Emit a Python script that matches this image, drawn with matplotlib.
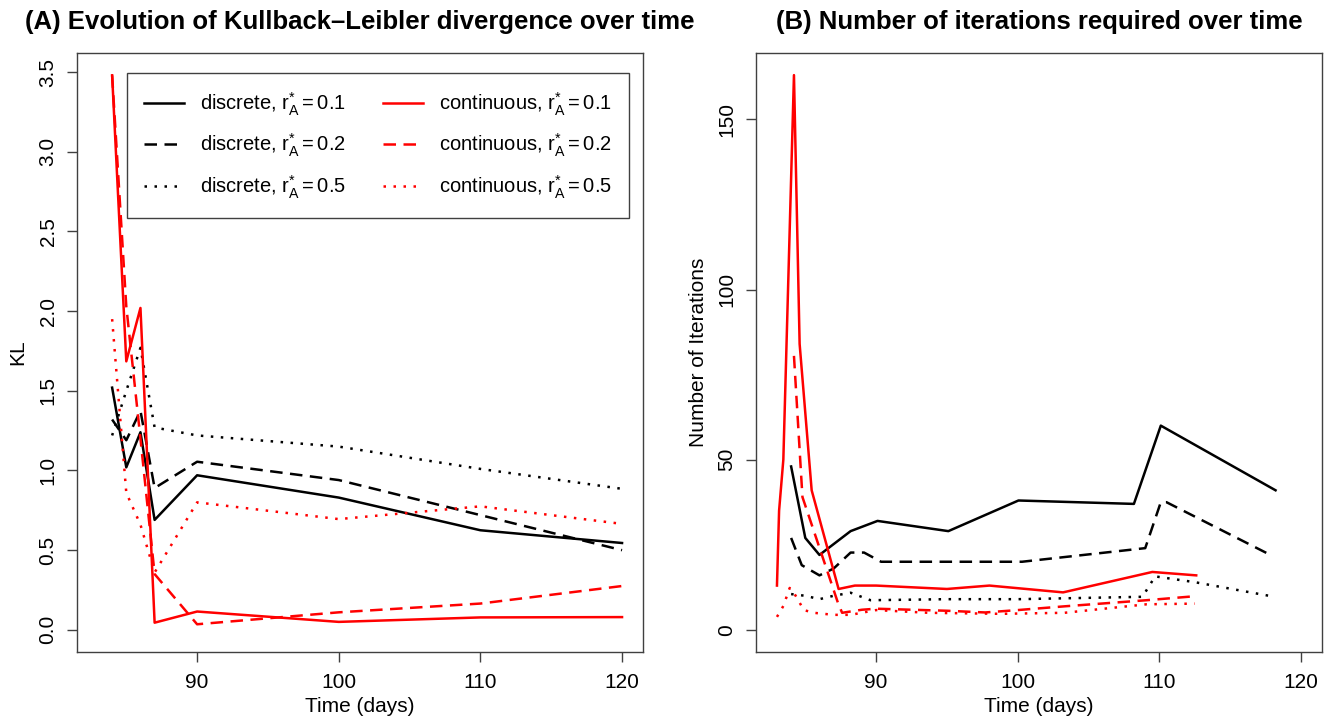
import matplotlib
matplotlib.use("Agg")
import matplotlib.pyplot as plt
from matplotlib.lines import Line2D

plt.rcParams['font.family'] = ['Liberation Sans', 'DejaVu Sans']
plt.rcParams['mathtext.fontset'] = 'custom'
plt.rcParams['mathtext.rm'] = 'Liberation Sans'
plt.rcParams['mathtext.it'] = 'Liberation Sans:italic'
plt.rcParams['mathtext.bf'] = 'Liberation Sans:bold'

# --- Panel A : KL divergence ---
kl_days = [84, 85, 86, 87, 90, 100, 110, 120]
kl_disc_01 = [1.52, 1.02, 1.24, 0.69, 0.97, 0.83, 0.625, 0.545]
kl_disc_02 = [1.32, 1.19, 1.375, 0.89, 1.055, 0.94, 0.72, 0.50]
kl_disc_05 = [1.22, 1.50, 1.77, 1.27, 1.22, 1.15, 1.01, 0.885]
kl_cont_01 = [3.48, 1.685, 2.02, 0.045, 0.115, 0.05, 0.078, 0.08]
kl_cont_02 = [3.48, 2.03, 1.20, 0.35, 0.035, 0.11, 0.165, 0.275]
kl_cont_05 = [1.95, 0.86, 0.66, 0.36, 0.80, 0.695, 0.775, 0.665]

# --- Panel B : number of iterations (irregular time points) ---
it_disc_01_t = [84, 85, 86, 88.2, 90.1, 95.1, 100.05, 108.2, 110.1, 118.2]
it_disc_01 = [48, 27, 22, 29, 32, 29, 38, 37, 60, 41]
it_disc_02_t = [84, 84.75, 86, 87, 88.2, 89.15, 90.35, 100.3, 109, 110.1, 110.5, 117.6]
it_disc_02 = [27, 19, 16, 18, 22.7, 22.7, 20, 20, 24, 37.5, 37.5, 22.5]
it_disc_05_t = [84, 85, 86, 87, 88.2, 89.6, 95, 100, 108.8, 109.7, 112.5, 118]
it_disc_05 = [10.5, 10, 9, 10, 10.9, 8.7, 9, 9, 9.7, 15.7, 14, 9.8]
it_cont_01_t = [83.0, 83.15, 83.45, 84.2, 84.6, 85.45, 87.35, 88.5, 90, 95, 98, 103.2, 109.5, 112.6]
it_cont_01 = [13, 35, 50, 163, 84, 41, 12, 13, 13, 12, 13, 11, 17, 16]
it_cont_02_t = [84.2, 84.8, 87.3, 87.6, 89, 90, 95, 97.7, 100, 103.3, 109.1, 112.3]
it_cont_02 = [80.5, 39, 8, 5, 5.9, 6.2, 5.6, 5.1, 5.8, 6.9, 8.7, 9.8]
it_cont_05_t = [83.0, 83.45, 83.9, 84.25, 84.9, 85.6, 87, 88.2, 90, 93.7, 98.8, 103.3, 109.1, 112.5]
it_cont_05 = [3.8, 7, 12.3, 10.5, 5.8, 5, 4.4, 4.4, 5.8, 5, 4.7, 5, 7.5, 7.7]

x_ticks = [90, 100, 110, 120]
kl_ticks = [0.0, 0.5, 1.0, 1.5, 2.0, 2.5, 3.0, 3.5]
it_ticks = [0, 50, 100, 150]

legend_labels = [r'discrete, $\mathrm{r}_{\mathrm{A}}^{*}=0.1$',
                 r'discrete, $\mathrm{r}_{\mathrm{A}}^{*}=0.2$',
                 r'discrete, $\mathrm{r}_{\mathrm{A}}^{*}=0.5$',
                 r'continuous, $\mathrm{r}_{\mathrm{A}}^{*}=0.1$',
                 r'continuous, $\mathrm{r}_{\mathrm{A}}^{*}=0.2$',
                 r'continuous, $\mathrm{r}_{\mathrm{A}}^{*}=0.5$']

LW = 1.8
DASH = (0, (5, 3))
DOT = (0, (1, 3))
RED = '#ff0000'
FRAME = '#404040'

W, H = 1338, 726
fig = plt.figure(figsize=(W / 100, H / 100), dpi=100)
axA = fig.add_axes([77 / W, (H - 652) / H, 566 / W, 599 / H])
axB = fig.add_axes([756 / W, (H - 652) / H, 566 / W, 599 / H])


def style_axes(ax, yticks, fmt):
    for s in ax.spines.values():
        s.set_color(FRAME)
        s.set_linewidth(1.0)
    ax.set_xticks(x_ticks)
    ax.set_yticks(yticks)
    ax.set_yticklabels([fmt.format(v) for v in yticks])
    ax.tick_params(axis='both', direction='out', length=7, width=1,
                   color=FRAME, labelsize=15)
    ax.tick_params(axis='x', pad=8)
    ax.tick_params(axis='y', pad=7)
    for lab in ax.get_yticklabels():
        lab.set_rotation(90)
        lab.set_va('center')
    ax.set_xlim(81.52, 121.48)
    ax.set_xlabel('Time (days)', fontsize=15)
    ax.xaxis.set_label_coords(0.5, -0.075)


# panel A
axA.plot(kl_days, kl_disc_01, color='black', lw=LW)
axA.plot(kl_days, kl_disc_02, color='black', lw=LW, linestyle=DASH)
axA.plot(kl_days, kl_disc_05, color='black', lw=LW, linestyle=DOT)
axA.plot(kl_days, kl_cont_01, color=RED, lw=LW)
axA.plot(kl_days, kl_cont_02, color=RED, lw=LW, linestyle=DASH)
axA.plot(kl_days, kl_cont_05, color=RED, lw=LW, linestyle=DOT)
style_axes(axA, kl_ticks, '{:.1f}')
axA.set_ylim(-0.139, 3.62)
axA.set_ylabel('KL', fontsize=15)
axA.yaxis.set_label_coords(-0.088, 0.5)
axA.set_title('(A) Evolution of Kullback\u2013Leibler divergence over time',
              fontsize=18.5, fontweight='bold', pad=17)

handles = [Line2D([], [], color='black', lw=LW),
           Line2D([], [], color='black', lw=LW, linestyle=DASH),
           Line2D([], [], color='black', lw=LW, linestyle=DOT),
           Line2D([], [], color=RED, lw=LW),
           Line2D([], [], color=RED, lw=LW, linestyle=DASH),
           Line2D([], [], color=RED, lw=LW, linestyle=DOT)]
leg = axA.legend(handles, legend_labels, ncol=2, loc='upper left',
                 bbox_to_anchor=(0.0883, 0.9666), borderaxespad=0,
                 fontsize=14.5, handlelength=2.0, handletextpad=0.8,
                 columnspacing=1.8, labelspacing=0.7, borderpad=0.85,
                 fancybox=False, framealpha=1)
leg.get_frame().set_edgecolor(FRAME)
leg.get_frame().set_linewidth(1.0)

# panel B
axB.plot(it_disc_01_t, it_disc_01, color='black', lw=LW)
axB.plot(it_disc_02_t, it_disc_02, color='black', lw=LW, linestyle=DASH)
axB.plot(it_disc_05_t, it_disc_05, color='black', lw=LW, linestyle=DOT)
axB.plot(it_cont_01_t, it_cont_01, color=RED, lw=LW)
axB.plot(it_cont_02_t, it_cont_02, color=RED, lw=LW, linestyle=DASH)
axB.plot(it_cont_05_t, it_cont_05, color=RED, lw=LW, linestyle=DOT)
style_axes(axB, it_ticks, '{:d}')
axB.set_ylim(-6.52, 169.5)
axB.set_ylabel('Number of Iterations', fontsize=15)
axB.yaxis.set_label_coords(-0.085, 0.5)
axB.set_title('(B) Number of iterations required over time',
              fontsize=18.5, fontweight='bold', pad=17)

fig.savefig('out.png', dpi=100)
